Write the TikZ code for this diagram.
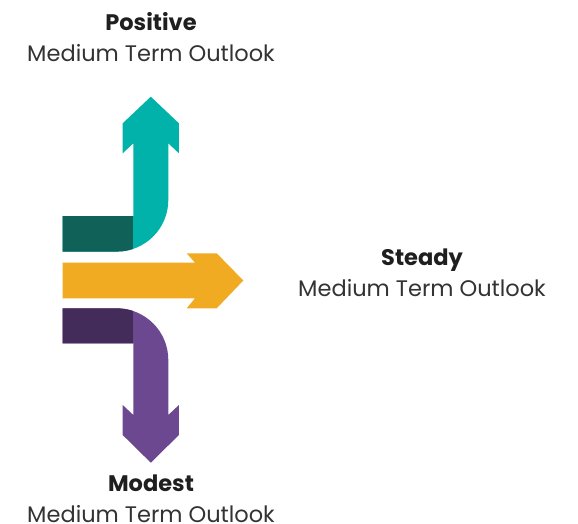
\documentclass[tikz,border=0pt]{standalone}
\usepackage{fontspec}
\setmainfont{Poppins}
\definecolor{tealup}{RGB}{0,178,169}
\definecolor{tealdark}{RGB}{16,98,88}
\definecolor{amber}{RGB}{240,171,35}
\definecolor{plum}{RGB}{108,72,145}
\definecolor{plumdark}{RGB}{67,44,90}
\tikzset{
  ttl/.style={anchor=base,inner sep=0pt,font=\fontsize{22.5}{26}\selectfont\bfseries,text=black!88},
  sub/.style={anchor=base,inner sep=0pt,font=\fontsize{22.5}{26}\selectfont,text=black!80}
}
\begin{document}
\begin{tikzpicture}[x=1pt,y=1pt]
\pgfmathsetmacro{\kl}{62.7}% left end of the bars
\pgfmathsetmacro{\ks}{133.3}% left edge of the stems
\pgfmathsetmacro{\kr}{168.3}% right edge of the stems
\pgfmathsetmacro{\kc}{150.8}% middle of the stems
\pgfmathsetmacro{\kbl}{122.7}% barbs
\pgfmathsetmacro{\kbr}{178.9}
\pgfmathsetmacro{\krad}{51.6}% outer bend
\useasboundingbox[fill=white](0,0) rectangle (578,-524);
% up: positive
\def\uppath{(\kl,-216)--(\ks,-216)--(\ks,-143.3)--(\kbl,-153.3)--(\kbl,-123.3)--(\kc,-96.7)
  --(\kbr,-123.3)--(\kbr,-153.3)--(\kr,-143.3)--(\kr,-200)
  arc[start angle=0,end angle=-90,radius=\krad pt]--(\kl,-251.6)--cycle}
\fill[tealup]\uppath;
\begin{scope}
\clip\uppath;
\fill[tealdark](\kl-2,-210) rectangle (\ks,-260);
\end{scope}
% straight: steady
\fill[amber](\kl,-262.7)--(195,-262.7)--(186.7,-253.3)--(216.7,-253.3)--(243.3,-280.5)
  --(216.7,-308.3)--(186.7,-308.3)--(195,-298.3)--(\kl,-298.3)--cycle;
% down: modest
\def\dnpath{(\kl,-308.3)--(\kr-\krad,-308.3)
  arc[start angle=90,end angle=0,radius=\krad pt]--(\kr,-415)--(\kbr,-405)--(\kbr,-435)
  --(\kc,-462.7)--(\kbl,-435)--(\kbl,-405)--(\ks,-415)--(\ks,-343.3)--(\kl,-343.3)--cycle}
\fill[plum]\dnpath;
\begin{scope}
\clip\dnpath;
\fill[plumdark](\kl-2,-300) rectangle (\ks,-350);
\end{scope}
% labels
\foreach \nm/\px/\py/\word in {pos/151/31/Positive,std/422/265.3/Steady,mod/151/491.7/Modest}{
  \node[ttl] (\nm) at (\px,-\py) {\word};
  \node[sub] (\nm sub) at (\px,-\py-31) {Medium Term Outlook};
}
\end{tikzpicture}
\end{document}
